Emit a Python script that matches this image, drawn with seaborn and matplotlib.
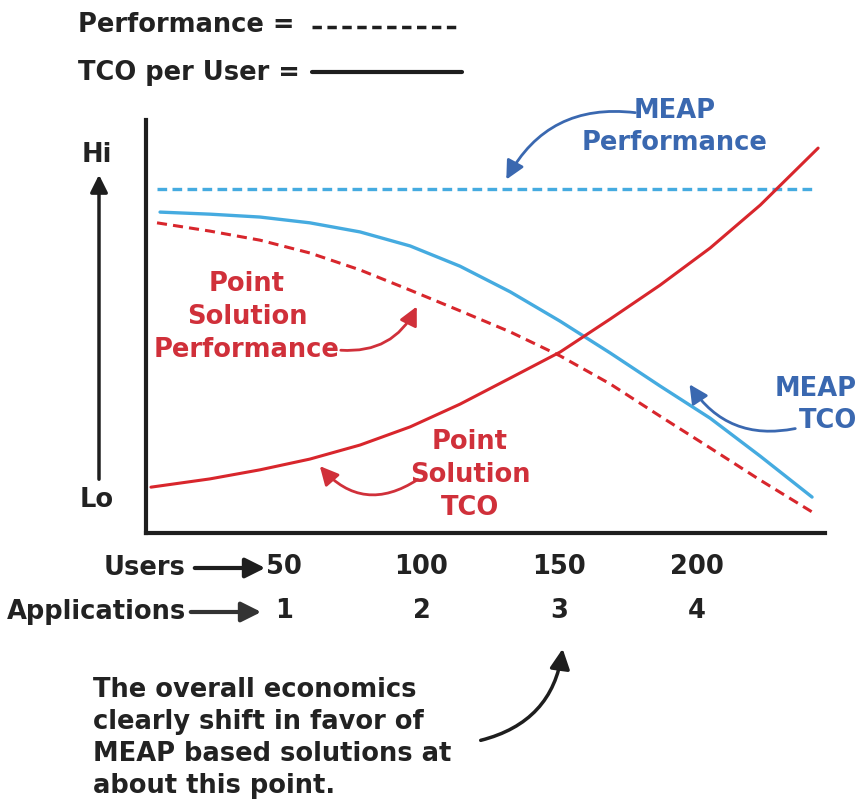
import matplotlib
matplotlib.use("Agg")
import matplotlib.pyplot as plt
from matplotlib.lines import Line2D
import seaborn as sns
import pandas as pd

# ---- data (conceptual levels, 0 = Lo, 100 = Hi) ----
meap_perf_x = [4.0, 241.8]
meap_perf_y = [83.3, 83.3]

meap_tco_x = [5.1, 23.2, 41.4, 59.5, 77.7, 95.9, 114.0, 132.2, 150.3, 168.5, 186.6, 204.8, 223.0, 241.8]
meap_tco_y = [77.7, 77.2, 76.5, 75.1, 72.9, 69.5, 64.6, 58.4, 51.3, 43.6, 35.6, 27.8, 18.6, 8.7]

point_perf_x = [4.0, 23.2, 41.4, 59.5, 77.7, 95.9, 114.0, 132.2, 150.3, 168.5, 186.6, 204.8, 223.0, 241.8]
point_perf_y = [75.1, 73.1, 70.9, 67.8, 63.7, 58.8, 53.8, 48.7, 42.9, 36.1, 28.3, 20.6, 12.8, 5.1]

point_tco_x = [1.8, 23.2, 41.4, 59.5, 77.7, 95.9, 114.0, 132.2, 150.3, 168.5, 186.6, 204.8, 223.0, 244.0]
point_tco_y = [11.1, 13.1, 15.3, 17.9, 21.3, 25.7, 31.2, 37.5, 43.8, 51.8, 60.0, 69.0, 79.4, 93.2]

users = [50, 100, 150, 200]
applications = [1, 2, 3, 4]

# ---- style ----
sns.set_style("white")
plt.rcParams['font.family'] = ['DejaVu Sans']
plt.rcParams['font.weight'] = 'bold'

W, H = 865, 809
fig = plt.figure(figsize=(W / 100, H / 100), dpi=100)


def fx(x):
    return x / W


def fy(y):
    return 1 - y / H


ax = fig.add_axes([fx(146), fy(533), fx(825) - fx(146), fy(120) - fy(533)])

LINE_BLUE = "#45abe0"
LINE_RED = "#d8262c"
TXT_BLUE = "#3a68b0"
TXT_RED = "#d0303a"
INK = "#1e1e1e"
FS = 18.5

df_mp = pd.DataFrame({"x": meap_perf_x, "y": meap_perf_y})
df_mt = pd.DataFrame({"x": meap_tco_x, "y": meap_tco_y})
df_pp = pd.DataFrame({"x": point_perf_x, "y": point_perf_y})
df_pt = pd.DataFrame({"x": point_tco_x, "y": point_tco_y})

sns.lineplot(data=df_mp, x="x", y="y", ax=ax, color=LINE_BLUE, lw=2.4,
             sort=False, estimator=None)
ax.lines[-1].set_dashes([2.9, 1.6])
sns.lineplot(data=df_mt, x="x", y="y", ax=ax, color=LINE_BLUE, lw=2.4,
             sort=False, estimator=None)
sns.lineplot(data=df_pp, x="x", y="y", ax=ax, color=LINE_RED, lw=2.2,
             sort=False, estimator=None)
ax.lines[-1].set_dashes([3.3, 2.0])
sns.lineplot(data=df_pt, x="x", y="y", ax=ax, color=LINE_RED, lw=2.2,
             sort=False, estimator=None)
for ln in ax.lines:
    ln.set_solid_capstyle('round')
    ln.set_solid_joinstyle('round')

ax.set_xlim(0, 246.5)
ax.set_ylim(0, 100)
ax.set_xlabel("")
ax.set_ylabel("")
ax.set_yticks([])
ax.set_xticks(users)
ax.set_xticklabels([f"{u}\n{a}" for u, a in zip(users, applications)],
                   fontsize=FS, fontweight='bold', linespacing=1.9,
                   color="#222222")
ax.tick_params(axis='x', direction='inout', length=22, width=2.5,
               color=INK, pad=4)
for s in ["top", "right"]:
    ax.spines[s].set_visible(False)
for s in ["left", "bottom"]:
    ax.spines[s].set_linewidth(3)
    ax.spines[s].set_color(INK)

# ---- top legend ----
fig.text(fx(78), fy(25), "Performance =", fontsize=FS, fontweight='bold',
         color="#222222", ha='left', va='center')
fig.add_artist(Line2D([fx(312), fx(460)], [fy(27), fy(27)], transform=fig.transFigure,
                      color=INK, lw=2.5, dashes=[2.7, 1.6]))
fig.text(fx(78), fy(73), "TCO per User =", fontsize=FS, fontweight='bold',
         color="#222222", ha='left', va='center')
fig.add_artist(Line2D([fx(312), fx(462)], [fy(72), fy(72)], transform=fig.transFigure,
                      color=INK, lw=3))

# ---- Hi / Lo ----
fig.text(fx(97), fy(155), "Hi", fontsize=FS, fontweight='bold', color="#222222",
         ha='center', va='center')
fig.text(fx(97), fy(500), "Lo", fontsize=FS, fontweight='bold', color="#222222",
         ha='center', va='center')
ax.annotate("", xy=(fx(99), fy(172)), xycoords='figure fraction',
            xytext=(fx(99), fy(482)), textcoords='figure fraction',
            arrowprops=dict(arrowstyle='-|>', color=INK, lw=2.5,
                            mutation_scale=26))

# ---- annotations ----
fig.text(fx(675), fy(127), "MEAP\nPerformance", fontsize=FS, fontweight='bold',
         color=TXT_BLUE, ha='center', va='center', linespacing=1.35)
ax.annotate("", xy=(fx(505), fy(182)), xycoords='figure fraction',
            xytext=(fx(638), fy(113)), textcoords='figure fraction',
            arrowprops=dict(arrowstyle='-|>', color=TXT_BLUE, lw=2,
                            mutation_scale=28, connectionstyle='arc3,rad=0.35'))

fig.text(fx(247), fy(317), "Point\nSolution\nPerformance", fontsize=FS,
         fontweight='bold', color=TXT_RED, ha='center', va='center', linespacing=1.35)
ax.annotate("", xy=(fx(418), fy(304)), xycoords='figure fraction',
            xytext=(fx(338), fy(350)), textcoords='figure fraction',
            arrowprops=dict(arrowstyle='-|>', color=TXT_RED, lw=2,
                            mutation_scale=28, connectionstyle='arc3,rad=0.35'))

fig.text(fx(857), fy(405), "MEAP\nTCO", fontsize=FS, fontweight='bold',
         color=TXT_BLUE, ha='right', va='center', linespacing=1.35,
         multialignment='right')
ax.annotate("", xy=(fx(688), fy(382)), xycoords='figure fraction',
            xytext=(fx(798), fy(428)), textcoords='figure fraction',
            arrowprops=dict(arrowstyle='-|>', color=TXT_BLUE, lw=2,
                            mutation_scale=28, connectionstyle='arc3,rad=-0.35'))

fig.text(fx(470), fy(475), "Point\nSolution\nTCO", fontsize=FS, fontweight='bold',
         color=TXT_RED, ha='center', va='center', linespacing=1.35)
ax.annotate("", xy=(fx(318), fy(464)), xycoords='figure fraction',
            xytext=(fx(420), fy(478)), textcoords='figure fraction',
            arrowprops=dict(arrowstyle='-|>', color=TXT_RED, lw=2,
                            mutation_scale=28, connectionstyle='arc3,rad=-0.45'))

# ---- axis row labels ----
fig.text(fx(186), fy(568), "Users", fontsize=FS, fontweight='bold', color="#222222",
         ha='right', va='center')
ax.annotate("", xy=(fx(268), fy(568)), xycoords='figure fraction',
            xytext=(fx(192), fy(568)), textcoords='figure fraction',
            arrowprops=dict(arrowstyle='-|>', color=INK, lw=3,
                            mutation_scale=30))
fig.text(fx(186), fy(612), "Applications", fontsize=FS, fontweight='bold',
         color="#222222", ha='right', va='center')
ax.annotate("", xy=(fx(264), fy(612)), xycoords='figure fraction',
            xytext=(fx(188), fy(612)), textcoords='figure fraction',
            arrowprops=dict(arrowstyle='-|>', color="#333333", lw=3,
                            mutation_scale=30))

# ---- bottom note ----
fig.text(fx(93), fy(738), "The overall economics\nclearly shift in favor of\n"
         "MEAP based solutions at\nabout this point.", fontsize=FS,
         fontweight='bold', color="#222222", ha='left', va='center', linespacing=1.3)
ax.annotate("", xy=(fx(563), fy(646)), xycoords='figure fraction',
            xytext=(fx(478), fy(741)), textcoords='figure fraction',
            arrowprops=dict(arrowstyle='-|>', color=INK, lw=2.5,
                            mutation_scale=30, connectionstyle='arc3,rad=0.35'))

fig.savefig("out.png", dpi=100)
